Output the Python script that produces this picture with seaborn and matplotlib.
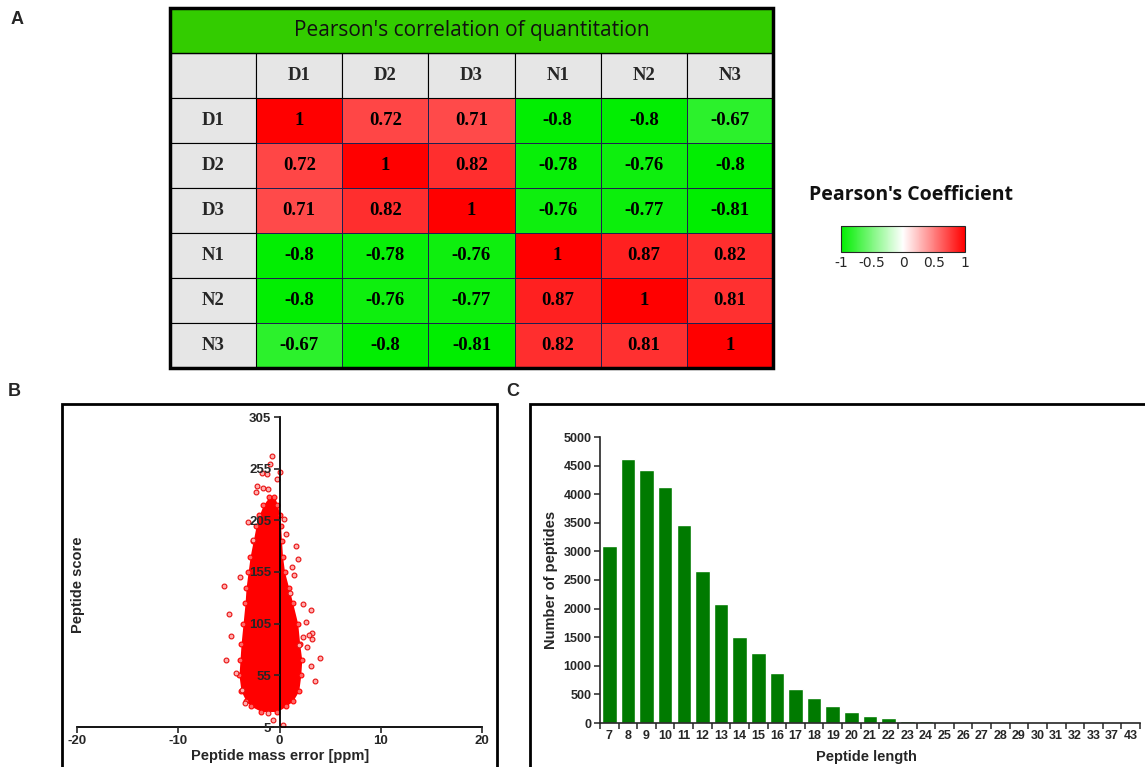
import numpy as np
import pandas as pd
import matplotlib
matplotlib.use("Agg")
import matplotlib.pyplot as plt
import seaborn as sns
from matplotlib.colors import LinearSegmentedColormap, TwoSlopeNorm, Normalize
from matplotlib.patches import Rectangle
import matplotlib.cm as cm

sns.set_style("ticks")
plt.rcParams['font.family'] = ['Liberation Sans', 'DejaVu Sans']
plt.rcParams['axes.unicode_minus'] = False

# ---------------- data ----------------
samples = ['D1', 'D2', 'D3', 'N1', 'N2', 'N3']
corr = [
    [1, 0.72, 0.71, -0.8, -0.8, -0.67],
    [0.72, 1, 0.82, -0.78, -0.76, -0.8],
    [0.71, 0.82, 1, -0.76, -0.77, -0.81],
    [-0.8, -0.78, -0.76, 1, 0.87, 0.82],
    [-0.8, -0.76, -0.77, 0.87, 1, 0.81],
    [-0.67, -0.8, -0.81, 0.82, 0.81, 1],
]
cbar_ticks = [-1, -0.5, 0, 0.5, 1]

# dense core of the mass error cloud (score level, left / right edge in ppm)
core_score = [20, 25, 30, 40, 55, 70, 85, 105, 125, 140, 155, 170, 185, 200, 210, 220, 228]
core_left = [-1.8, -2.8, -3.3, -3.8, -4.0, -3.9, -3.8, -3.6, -3.4, -3.3, -3.1, -2.9, -2.6, -2.3, -2.0, -1.6, -1.0]
core_right = [-0.2, 0.6, 1.3, 1.9, 2.1, 2.2, 2.0, 1.8, 1.3, 0.9, 0.5, 0.3, 0.2, 0.1, 0.0, -0.2, -0.5]

# scattered points outside the core
out_err = [-0.7, -0.9, 0.0, -1.7, -1.2, -0.2, -2.2, -1.6, -1.1, -2.3, 0.4, -3.1, 1.6, 1.8,
           -5.5, 1.4, 2.3, 3.1, -5.0, -4.8, 3.2, 3.2, 4.0, -5.3, 3.5, -4.3, -1.1, -0.6,
           0.3, -3.7, 3.1, 2.3, 1.0, 1.9, 2.9, 2.7, -2.6, 0.6, -3.9, 2.6, -3.4, 1.2]
out_score = [267, 260, 252, 251, 250, 245, 238, 236, 235, 232, 206, 203, 180, 168,
             141, 152, 124, 118, 114, 93, 96, 90, 72, 70, 50, 57, 19, 12,
             7, 41, 64, 92, 135, 84, 94, 82, 186, 192, 150, 107, 28, 160]

pep_length = ['7', '8', '9', '10', '11', '12', '13', '14', '15', '16', '17', '18', '19', '20',
              '21', '22', '23', '24', '25', '26', '27', '28', '29', '30', '31', '32', '33', '37', '43']
pep_count = [3090, 4620, 4420, 4130, 3460, 2650, 2080, 1500, 1220, 870, 600, 430, 300, 190,
             125, 80, 35, 30, 12, 6, 4, 3, 2, 1, 1, 1, 1, 1, 1]

W, H = 1145, 767
fig = plt.figure(figsize=(W / 100, H / 100), dpi=100)


def fx(px):
    return px / W


def fy(py):
    return 1 - py / H


# ---------------- panel A: correlation table ----------------
df = pd.DataFrame(corr, index=samples, columns=samples)
cmap = LinearSegmentedColormap.from_list('gwr', ['#00EE00', '#FFFFFF', '#FF0000'])
norm = TwoSlopeNorm(vmin=-0.81, vcenter=0, vmax=1)

axA = fig.add_axes([fx(170), fy(368), fx(773) - fx(170), fy(8) - fy(368)])
sns.heatmap(df, ax=axA, cmap=cmap, norm=norm, annot=True, fmt='g', cbar=False,
            linewidths=0.6, linecolor='#202050',
            annot_kws={'color': 'black', 'fontsize': 13.5, 'fontweight': 'bold',
                       'family': 'Liberation Serif'})
axA.set_xlim(-1, 6)
axA.set_ylim(6, -2)
axA.axis('off')

gray = '#E6E6E6'
axA.add_patch(Rectangle((-1, -1), 1, 1, fc=gray, ec='black', lw=0.8))
for j, s in enumerate(samples):
    axA.add_patch(Rectangle((j, -1), 1, 1, fc=gray, ec='black', lw=0.8))
    axA.text(j + 0.5, -0.5, s, ha='center', va='center', fontsize=13.5,
             fontweight='bold', family='Liberation Serif')
    axA.add_patch(Rectangle((-1, j), 1, 1, fc=gray, ec='black', lw=0.8))
    axA.text(-0.5, j + 0.5, s, ha='center', va='center', fontsize=13.5,
             fontweight='bold', family='Liberation Serif')
axA.add_patch(Rectangle((-1, -2), 7, 1, fc='#33CC00', ec='black', lw=1))
axA.text(2.5, -1.5, "Pearson's correlation of quantitation", ha='center', va='center',
         fontsize=15, family='Open Sans', color='#111111')
axA.add_patch(Rectangle((-1, -2), 7, 8, fill=False, ec='black', lw=2.5, clip_on=False))

# colour legend
fig.text(fx(911), fy(195), "Pearson's Coefficient", ha='center', va='center',
         fontsize=14, fontweight='bold', family='Open Sans', color='#111111')
cax = fig.add_axes([fx(841), fy(252), fx(965) - fx(841), fy(226) - fy(252)])
sm = cm.ScalarMappable(norm=Normalize(-1, 1), cmap=cmap)
cb = fig.colorbar(sm, cax=cax, orientation='horizontal', ticks=cbar_ticks)
cb.ax.set_xticklabels(['-1', '-0.5', '0', '0.5', '1'], fontsize=10, family='DejaVu Sans')
cb.ax.tick_params(length=0, pad=3)
cb.outline.set_linewidth(0.8)

# ---------------- panel B: mass error scatter ----------------
axB = fig.add_axes([fx(77), fy(727), fx(482) - fx(77), fy(417) - fy(727)])
axB.fill_betweenx(core_score, core_left, core_right, color='#FF0000', lw=0)
sns.scatterplot(x=core_left + core_right, y=core_score + core_score, ax=axB,
                marker='o', s=12, color='#FF6666', edgecolor='#FF0000', linewidth=0.8)
sns.scatterplot(x=out_err, y=out_score, ax=axB, marker='o', s=12,
                color='#FFB0B0', edgecolor='#E81010', linewidth=0.8)
axB.set_axisbelow(False)
axB.set_xlim(-20, 20)
axB.set_ylim(5, 305)
axB.set_xticks([-20, -10, 0, 10, 20])
axB.set_yticks([5, 55, 105, 155, 205, 255, 305])
axB.spines['left'].set_position(('data', 0))
axB.spines['top'].set_visible(False)
axB.spines['right'].set_visible(False)
for sp in ['left', 'bottom']:
    axB.spines[sp].set_linewidth(1.3)
    axB.spines[sp].set_color('black')
axB.tick_params(direction='out', length=4, width=1.2, pad=2)
for lab in axB.get_xticklabels() + axB.get_yticklabels():
    lab.set_fontweight('bold')
    lab.set_fontsize(9.5)
axB.set_facecolor('none')
fig.text(fx(280), fy(756), 'Peptide mass error [ppm]', ha='center', va='center',
         fontsize=10.5, fontweight='bold')
fig.text(fx(78), fy(585), 'Peptide score', ha='center', va='center', rotation=90,
         fontsize=10.5, fontweight='bold')
fig.patches.append(Rectangle((fx(62), -0.02), fx(497) - fx(62), fy(404) + 0.02,
                             transform=fig.transFigure, fill=False, ec='black', lw=2))

# ---------------- panel C: peptide length ----------------
axC = fig.add_axes([fx(600), fy(723), fx(1140) - fx(600), fy(437) - fy(723)])
sns.barplot(x=pep_length, y=pep_count, ax=axC, color='#007A00', width=0.78,
            saturation=1, order=pep_length)
axC.set_ylim(0, 5000)
axC.set_yticks(range(0, 5001, 500))
axC.set_xlim(-0.5, len(pep_length) - 0.5)
axC.spines['top'].set_visible(False)
axC.spines['right'].set_visible(False)
for sp in ['left', 'bottom']:
    axC.spines[sp].set_linewidth(1.2)
axC.tick_params(axis='y', direction='out', length=4, width=1.1, pad=2)
axC.tick_params(axis='x', length=0, pad=5)
axC.set_xticks(np.arange(len(pep_length) + 1) - 0.5, minor=True)
axC.tick_params(axis='x', which='minor', direction='out', length=4, width=1.1)
for lab in axC.get_xticklabels() + axC.get_yticklabels():
    lab.set_fontweight('bold')
    lab.set_fontsize(9)
axC.set_xlabel('')
axC.set_ylabel('')
fig.text(fx(866), fy(757), 'Peptide length', ha='center', va='center',
         fontsize=10.5, fontweight='bold')
fig.text(fx(551), fy(580), 'Number of peptides', ha='center', va='center', rotation=90,
         fontsize=10.5, fontweight='bold')
fig.patches.append(Rectangle((fx(530), -0.02), 1.05 - fx(530), fy(404) + 0.02,
                             transform=fig.transFigure, fill=False, ec='black', lw=2))

# panel letters
fig.text(fx(17), fy(20), 'A', ha='center', va='center', fontsize=13, fontweight='bold')
fig.text(fx(14), fy(392), 'B', ha='center', va='center', fontsize=13, fontweight='bold')
fig.text(fx(513), fy(392), 'C', ha='center', va='center', fontsize=13, fontweight='bold')

fig.savefig('out.png', dpi=100, facecolor='white')
